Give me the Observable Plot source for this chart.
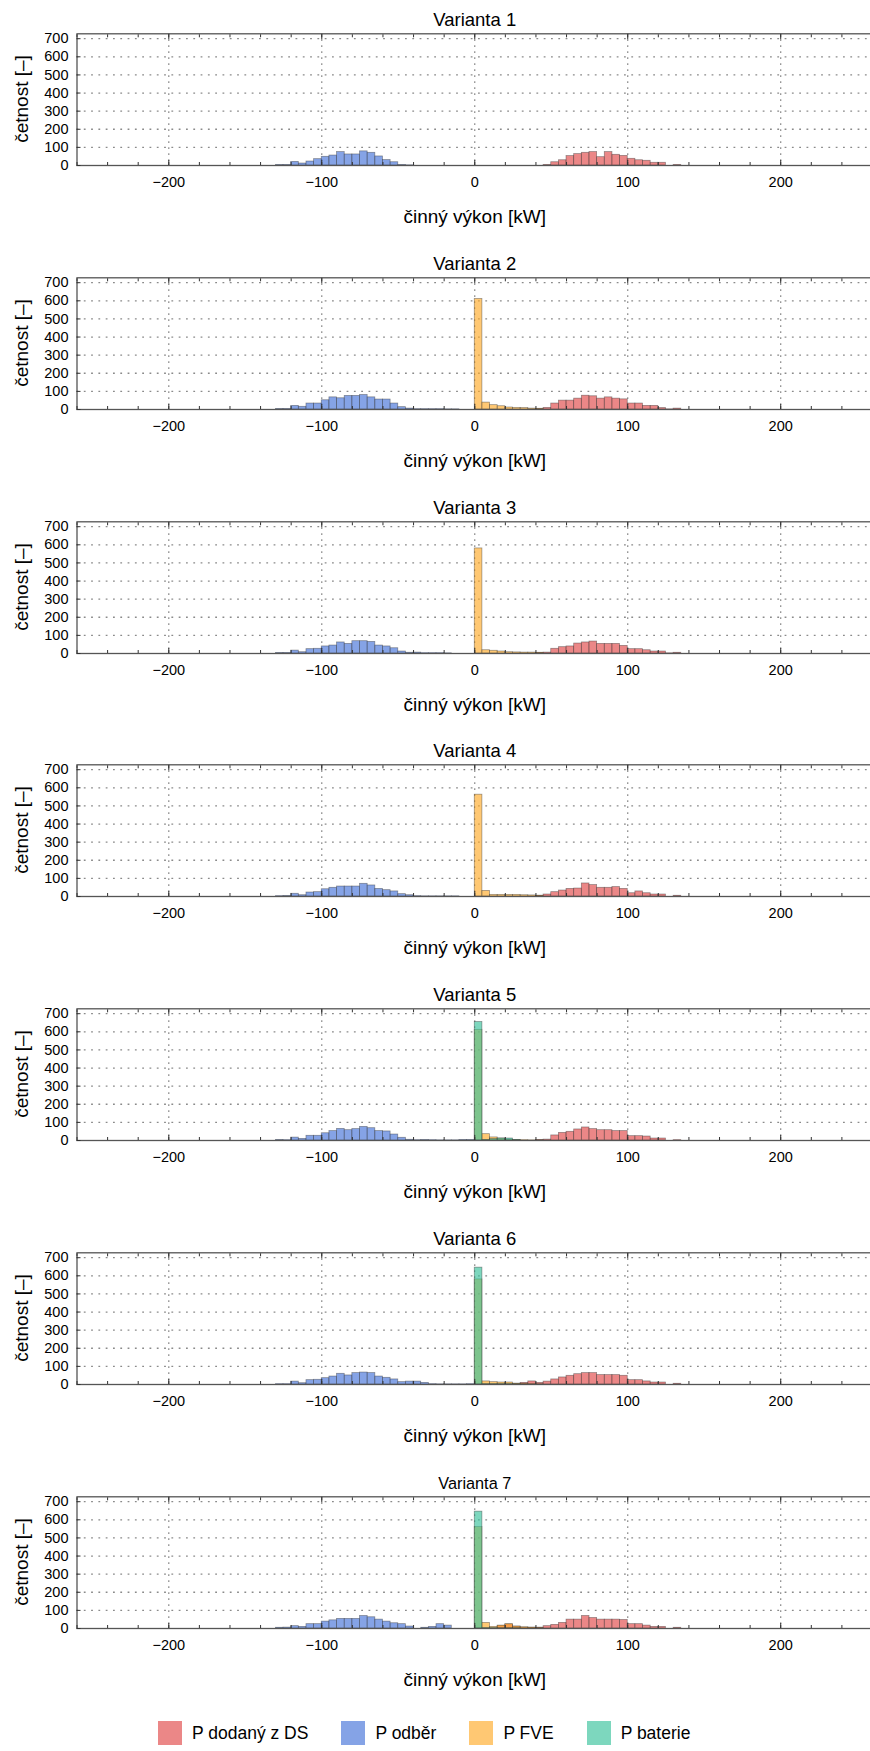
<!DOCTYPE html>
<html><head><meta charset="utf-8">
<script src="https://cdn.jsdelivr.net/npm/d3@7"></script>
<script src="https://cdn.jsdelivr.net/npm/@observablehq/plot@0.6"></script>
<style>
html,body{margin:0;padding:0;background:#fff;overflow:hidden;width:870px;height:1751px;}
#root{position:relative;width:870px;height:1751px;overflow:hidden;font-family:"Liberation Sans",Arial,sans-serif;}
.panel{position:absolute;left:0;width:872px;height:244px;}
.ylab{position:absolute;left:21px;top:99px;transform:translate(-50%,-50%) rotate(-90deg);font-size:19px;line-height:1;white-space:nowrap;color:#000;}
.legend{position:absolute;left:158px;top:1721px;display:flex;align-items:center;height:24px;font-size:17.5px;color:#000;white-space:nowrap;}
.item{display:flex;align-items:center;margin-right:33px;}
.sw{width:24px;height:24px;margin-right:10px;box-sizing:border-box;}
</style></head><body><div id="root"></div>
<script>
// ---- data ----
const variants = ["Varianta 1","Varianta 2","Varianta 3","Varianta 4","Varianta 5","Varianta 6","Varianta 7"];
const seriesNames = ["P dodaný z DS","P odběr","P FVE","P baterie"];
const seriesColors = ["#E14747","#4472D9","#FFAB28","#37C29B"];
const binWidth = 5;
const xTicks = [-200,-100,0,100,200];
const yTicks = [0,100,200,300,400,500,600,700];
const xLabel = "činný výkon [kW]";
const yLabel = "četnost [–]";

// P dodaný z DS: counts per 5 kW bin, first bin starts at 15 kW
const dodanyStart = 15;
const dodany = [
  [0,0,0,0,0,0,3,18,29,52,63,70,74,46,74,59,53,37,29,26,15,15,0,3],
  [0,0,0,0,0,2,9,33,49,49,60,76,73,60,67,60,56,33,33,20,20,8,1,5],
  [0,0,0,0,0,3,5,26,35,39,55,61,66,53,53,53,42,24,24,18,11,11,1,4],
  [0,0,0,0,0,4,11,24,33,42,44,72,63,48,48,52,42,18,28,18,11,11,0,4],
  [0,0,0,0,0,3,5,28,42,48,61,72,63,57,57,52,52,24,24,22,11,11,0,2],
  [0,0,2,9,17,9,16,28,39,48,57,63,63,52,52,52,48,24,24,17,11,11,0,4],
  [14,22,10,4,4,5,13,20,31,49,49,69,58,49,49,49,47,24,24,16,9,9,0,4]
];
// P odběr: first bin starts at -130 kW
const odberStart = -130;
const odber = [
  [3,3,20,11,22,35,48,55,74,61,61,78,70,50,30,18,3,1,0,0,0,0,0,0,0,0],
  [3,3,20,15,33,33,51,67,62,75,75,80,67,55,55,33,13,5,2,2,2,2,1,1,0,0],
  [3,3,16,7,24,26,39,44,61,53,68,68,64,44,39,29,11,4,5,2,2,2,1,0,0,0],
  [2,3,15,7,22,24,40,48,55,55,55,70,61,42,35,28,13,7,2,1,1,1,1,1,0,0],
  [3,2,16,9,26,26,40,52,64,57,63,75,68,52,50,33,15,4,2,3,2,1,1,1,3,3],
  [2,2,16,7,24,26,35,44,59,50,63,66,63,44,37,28,13,16,16,9,2,1,1,1,1,2],
  [4,5,13,9,24,24,38,45,53,53,53,69,62,49,38,29,24,11,0,4,9,24,16,0,0,0]
];
// P FVE: first bin starts at 0 kW
const fveStart = 0;
const fve = [
  [],
  [610,38,24,18,11,9,8,5,4],
  [580,18,15,11,7,6,5,5,4],
  [562,31,9,9,9,9,7,6,4],
  [611,35,17,11,5,3,2,1,1],
  [580,17,13,11,11,5,4,2,1],
  [560,31,9,16,24,11,7,5,3]
];
// P baterie: first bin starts at 0 kW
const baterieStart = 0;
const baterie = [
  [],[],[],[],
  [654,3,8,11,11,3],
  [645,2,2,2,2,1],
  [645,2,2,1,1,1]
];

// ---- build ----
const seriesData = [[dodany,dodanyStart],[odber,odberStart],[fve,fveStart],[baterie,baterieStart]];
const root = document.getElementById("root");
const panelStep = 243.8;
const FONT = "Liberation Sans, Arial, Helvetica, sans-serif";

function rowsFor(v, s) {
  const [arr, start] = seriesData[s];
  return arr[v].map((c, i) => ({x1: start + i*binWidth, x2: start + (i+1)*binWidth, y: c})).filter(d => d.y > 0);
}
const minorX = d3.range(-260, 261, 20);

variants.forEach((title, v) => {
  const marks = [
    Plot.gridY(yTicks.filter(t => t > 0), {stroke:"#8a8a8a", strokeOpacity:1, strokeWidth:1.3, strokeDasharray:"1.8,5.5"}),
    Plot.gridX(xTicks, {stroke:"#8a8a8a", strokeOpacity:1, strokeWidth:1.2, strokeDasharray:"1.8,4.2"})
  ];
  seriesNames.forEach((name, s) => {
    const rows = rowsFor(v, s);
    if (rows.length) marks.push(Plot.rectY(rows, {x1:"x1", x2:"x2", y:"y", fill: seriesColors[s], fillOpacity:0.65, stroke:"#333", strokeOpacity:0.5, strokeWidth:0.75}));
  });
  marks.push(
    Plot.frame({stroke:"#555", strokeWidth:1.3}),
    Plot.axisX(minorX, {anchor:"bottom", tickSize:-3, tickFormat:() => "", stroke:"#333"}),
    Plot.axisX(xTicks, {anchor:"bottom", tickSize:-5, tickFormat:() => "", stroke:"#333"}),
    Plot.axisX(minorX, {anchor:"top", tickSize:-3, tickFormat:() => "", stroke:"#333"}),
    Plot.axisX(xTicks, {anchor:"top", tickSize:-5, tickFormat:() => "", stroke:"#333"}),
    Plot.axisX(xTicks, {anchor:"bottom", tickSize:0, tickPadding:11, fontSize:14.5}),
    Plot.axisY(yTicks, {anchor:"left", tickSize:-4, tickFormat:() => "", stroke:"#333"}),
    Plot.axisY(yTicks, {anchor:"left", tickSize:0, tickPadding:8.5, fontSize:14.5}),
    Plot.text([title], {frameAnchor:"top", dy:-13.3, lineAnchor:"middle", fontSize: v === 6 ? 16.3 : 18.5, text: d => d}),
    Plot.text([xLabel], {frameAnchor:"bottom", dy:51, lineAnchor:"middle", fontSize:19, text: d => d})
  );
  const svg = Plot.plot({
    width: 872, height: 244,
    marginLeft: 76.5, marginRight: 0, marginTop: 33.3, marginBottom: 79,
    x: {domain: [-260, 260], label: null},
    y: {domain: [0, 727], label: null},
    style: {fontFamily: FONT, fontSize: "14.5px", maxWidth: "none", overflow: "visible", color: "#000"},
    marks
  });
  const div = document.createElement("div");
  div.className = "panel";
  div.style.top = (v * panelStep) + "px";
  div.appendChild(svg);
  const yl = document.createElement("div");
  yl.className = "ylab";
  yl.textContent = yLabel;
  div.appendChild(yl);
  root.appendChild(div);
});

// legend
const leg = document.createElement("div");
leg.className = "legend";
seriesNames.forEach((name, s) => {
  const it = document.createElement("div");
  it.className = "item";
  const sw = document.createElement("div");
  sw.className = "sw";
  sw.style.background = seriesColors[s];
  sw.style.opacity = 0.65;
  const t = document.createElement("span");
  t.textContent = name;
  it.appendChild(sw); it.appendChild(t);
  leg.appendChild(it);
});
root.appendChild(leg);
</script></body></html>
